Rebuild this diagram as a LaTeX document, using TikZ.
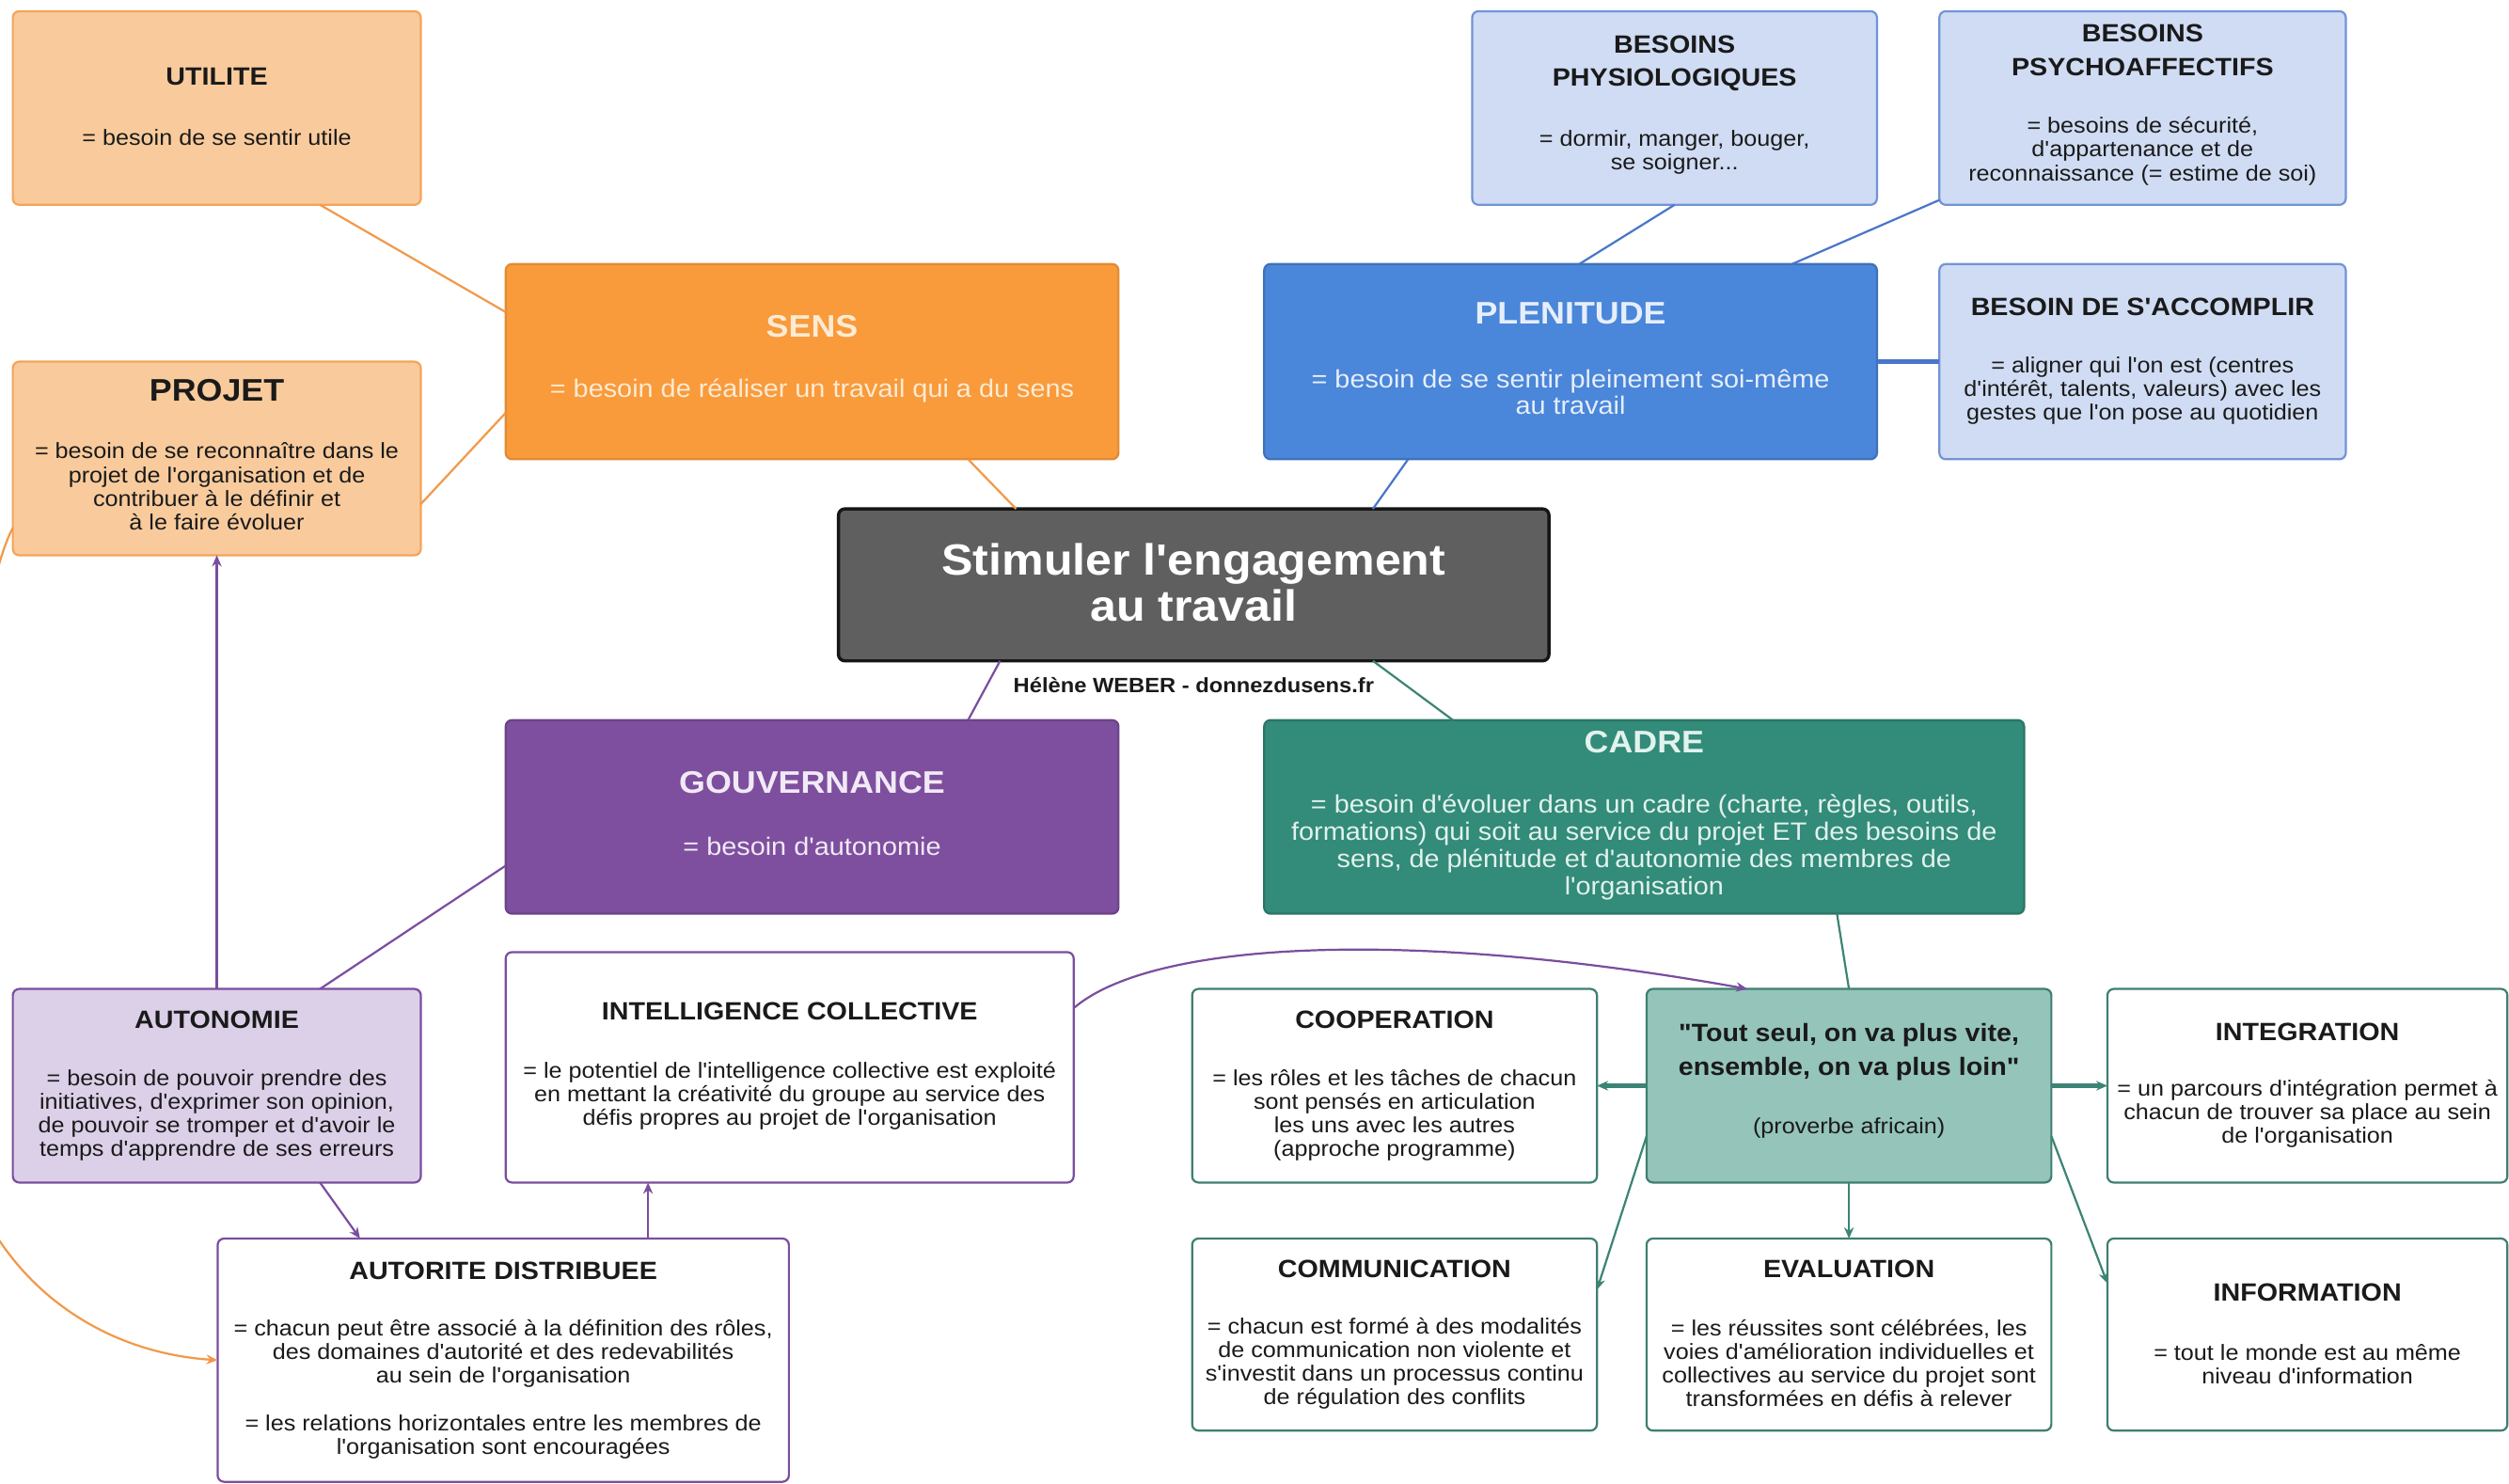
\documentclass[tikz,border=0pt]{standalone}
\usepackage{fontspec}
\setmainfont{Liberation Sans}[FakeStretch=1.08, Ligatures=TeXOff]
\usetikzlibrary{arrows.meta}
\definecolor{orL}{HTML}{F9CB9C}
\definecolor{orB}{HTML}{F4A45A}
\definecolor{orS}{HTML}{F99A3B}
\definecolor{orLine}{HTML}{F2994A}
\definecolor{blL}{HTML}{CFDCF3}
\definecolor{blB}{HTML}{7393D8}
\definecolor{blM}{HTML}{4A86D9}
\definecolor{blLine}{HTML}{4976C9}
\definecolor{puM}{HTML}{7E4F9E}
\definecolor{puL}{HTML}{DCD0E9}
\definecolor{puB}{HTML}{7A4E9E}
\definecolor{teM}{HTML}{338B79}
\definecolor{teL}{HTML}{95C4BA}
\definecolor{teB}{HTML}{3F7F71}
\definecolor{teLine}{HTML}{3C8474}
\definecolor{grM}{HTML}{5F5F5F}
\definecolor{grB}{HTML}{161616}
\definecolor{txt}{HTML}{1A1A1A}
\definecolor{txSens}{HTML}{FDEBD3}
\definecolor{txPlen}{HTML}{E6EEFA}
\definecolor{txGouv}{HTML}{F1EAF6}
\definecolor{txCadre}{HTML}{E2F2ED}
\newcommand{\placebox}[6]{%
  \pgfmathsetmacro{\qbw}{#5-#3}\pgfmathsetmacro{\qbh}{#6-#4}%
  \pgfmathsetmacro{\qcx}{(#3+#5)/2}\pgfmathsetmacro{\qcy}{(#4+#6)/2}%
  \node[box,#2,minimum width=\qbw pt,minimum height=\qbh pt] (#1) at (\qcx,\qcy) {};}
\tikzset{
  box/.style={rectangle, rounded corners=4pt, inner sep=0pt, outer sep=0pt, line width=1.3pt},
  orlight/.style={fill=orL, draw=orB},
  orstrong/.style={fill=orS, draw=orS!90!black},
  centerbox/.style={fill=grM, draw=grB, line width=2pt},
  bllight/.style={fill=blL, draw=blB},
  blstrong/.style={fill=blM, draw=blM!85!black},
  pustrong/.style={fill=puM, draw=puM!85!black},
  pulight/.style={fill=puL, draw=puB},
  puwhite/.style={fill=white, draw=puB},
  testrong/.style={fill=teM, draw=teM!85!black},
  telight/.style={fill=teL, draw=teB},
  tewhite/.style={fill=white, draw=teB},
  body/.style={align=center, inner sep=0pt, text=txt, font=\fontsize{13.7}{14.8}\selectfont},
  mbody/.style={align=center, inner sep=0pt, font=\fontsize{15.7}{17}\selectfont},
  ttl/.style={align=center, inner sep=0pt, text=txt, font=\bfseries\fontsize{15.6}{21}\selectfont},
  bigttl/.style={align=center, inner sep=0pt, font=\bfseries\fontsize{19.5}{22}\selectfont},
  conn/.style={line width=1.3pt},
  arr/.style={-{Stealth[length=7pt,width=6pt]}},
}
\begin{document}
\begin{tikzpicture}[x=1pt,y=-1pt]
\useasboundingbox (0,0) rectangle (1568,927);
\fill[white] (0,0) rectangle (1568,927);

% ---------- boxes ----------
\placebox{utilite}{orlight}{8}{7}{263}{128}
\placebox{projet}{orlight}{8}{226}{263}{347}
\placebox{sens}{orstrong}{316}{165}{699}{287}
\placebox{center}{centerbox}{524}{318}{968}{413}
\placebox{plen}{blstrong}{790}{165}{1173}{287}
\placebox{physio}{bllight}{920}{7}{1173}{128}
\placebox{psycho}{bllight}{1212}{7}{1466}{128}
\placebox{accomp}{bllight}{1212}{165}{1466}{287}
\placebox{gouv}{pustrong}{316}{450}{699}{571}
\placebox{cadre}{testrong}{790}{450}{1265}{571}
\placebox{autonomie}{pulight}{8}{618}{263}{739}
\placebox{intel}{puwhite}{316}{595}{671}{739}
\placebox{autorite}{puwhite}{136}{774}{493}{926}
\placebox{coop}{tewhite}{745}{618}{998}{739}
\placebox{proverb}{telight}{1029}{618}{1282}{739}
\placebox{integ}{tewhite}{1317}{618}{1567}{739}
\placebox{comm}{tewhite}{745}{774}{998}{894}
\placebox{eval}{tewhite}{1029}{774}{1282}{894}
\placebox{info}{tewhite}{1317}{774}{1567}{894}

% ---------- texts ----------
\node[ttl] (utiliteT) at (135.5,48) {UTILITE};
\node[body] (utiliteB) at (135.5,86) {= besoin de se sentir utile};
\node[bigttl,text=txt] (projetT) at (135.5,244) {PROJET};
\node[body] (projetB) at (135.5,304) {= besoin de se reconnaître dans le\\projet de l'organisation et de\\contribuer à le définir et\\à le faire évoluer};
\node[bigttl,text=txSens] (sensT) at (507.5,204) {SENS};
\node[mbody,text=txSens] (sensB) at (507.5,244) {= besoin de réaliser un travail qui a du sens};
\node[align=center,inner sep=0pt,text=white,font=\bfseries\fontsize{27.3}{29}\selectfont] (centerT) at (746,364) {Stimuler l'engagement\\au travail};
\node[inner sep=0pt,text=txt,font=\bfseries\fontsize{12.9}{14}\selectfont] (author) at (746,428) {Hélène WEBER - donnezdusens.fr};
\node[bigttl,text=txPlen] (plenT) at (981.5,196) {PLENITUDE};
\node[mbody,text=txPlen] (plenB) at (981.5,245) {= besoin de se sentir pleinement soi-même\\au travail};
\node[ttl] (physioT) at (1046.5,39.5) {BESOINS\\PHYSIOLOGIQUES};
\node[body] (physioB) at (1046.5,95) {= dormir, manger, bouger,\\se soigner...};
\node[ttl] (psychoT) at (1339,31.5) {BESOINS\\PSYCHOAFFECTIFS};
\node[body] (psychoB) at (1339,94.5) {= besoins de sécurité,\\d'appartenance et de\\reconnaissance (= estime de soi)};
\node[ttl] (accompT) at (1339,192) {BESOIN DE S'ACCOMPLIR};
\node[body] (accompB) at (1339,244) {= aligner qui l'on est (centres\\d'intérêt, talents, valeurs) avec les\\gestes que l'on pose au quotidien};
\node[bigttl,text=txGouv] (gouvT) at (507.5,489) {GOUVERNANCE};
\node[mbody,text=txGouv] (gouvB) at (507.5,529) {= besoin d'autonomie};
\node[bigttl,text=txCadre] (cadreT) at (1027.5,464) {CADRE};
\node[mbody,text=txCadre] (cadreB) at (1027.5,529.5) {= besoin d'évoluer dans un cadre (charte, règles, outils,\\formations) qui soit au service du projet ET des besoins de\\sens, de plénitude et d'autonomie des membres de\\l'organisation};
\node[ttl] (autonomieT) at (135.5,637) {AUTONOMIE};
\node[body] (autonomieB) at (135.5,697) {= besoin de pouvoir prendre des\\initiatives, d'exprimer son opinion,\\de pouvoir se tromper et d'avoir le\\temps d'apprendre de ses erreurs};
\node[ttl] (intelT) at (493.5,632) {INTELLIGENCE COLLECTIVE};
\node[body] (intelB) at (493.5,685) {= le potentiel de l'intelligence collective est exploité\\en mettant la créativité du groupe au service des\\défis propres au projet de l'organisation};
\node[ttl] (autoriteT) at (314.5,794) {AUTORITE DISTRIBUEE};
\node[body] (autoriteB) at (314.5,846) {= chacun peut être associé à la définition des rôles,\\des domaines d'autorité et des redevabilités\\au sein de l'organisation};
\node[body] (autoriteC) at (314.5,898) {= les relations horizontales entre les membres de\\l'organisation sont encouragées};
\node[ttl] (coopT) at (871.5,637) {COOPERATION};
\node[body] (coopB) at (871.5,697) {= les rôles et les tâches de chacun\\sont pensés en articulation\\les uns avec les autres\\(approche programme)};
\node[ttl] (proverbT) at (1155.5,657.5) {"Tout seul, on va plus vite,\\ensemble, on va plus loin"};
\node[body] (proverbB) at (1155.5,705) {(proverbe africain)};
\node[ttl] (integT) at (1442,645) {INTEGRATION};
\node[body] (integB) at (1442,696) {= un parcours d'intégration permet à\\chacun de trouver sa place au sein\\de l'organisation};
\node[ttl] (commT) at (871.5,793) {COMMUNICATION};
\node[body] (commB) at (871.5,852) {= chacun est formé à des modalités\\de communication non violente et\\s'investit dans un processus continu\\de régulation des conflits};
\node[ttl] (evalT) at (1155.5,793) {EVALUATION};
\node[body] (evalB) at (1155.5,852) {= les réussites sont célébrées, les\\voies d'amélioration individuelles et\\collectives au service du projet sont\\transformées en défis à relever};
\node[ttl] (infoT) at (1442,808) {INFORMATION};
\node[body] (infoB) at (1442,852.5) {= tout le monde est au même\\niveau d'information};

% ---------- connectors ----------
\draw[conn,orLine] ([xshift=64.5pt]utilite.south) -- ([yshift=31pt]sens.west);
\draw[conn,orLine] ([yshift=-28.5pt]projet.east) -- ([yshift=-32pt]sens.west);
\draw[conn,orLine] ([xshift=97.5pt]sens.south) -- ([xshift=-111pt]center.north);
\draw[conn,blLine] (physio.south) -- ([xshift=5.5pt]plen.north);
\draw[conn,blLine] ([yshift=3pt]psycho.south west) -- ([xshift=138.5pt]plen.north);
\draw[blLine,line width=2.5pt] (plen.east) -- (accomp.west);
\draw[conn,blLine] ([xshift=-101.5pt]plen.south) -- ([xshift=112pt]center.north);
\draw[conn,puB] ([xshift=-121pt]center.south) -- ([xshift=97.5pt]gouv.north);
\draw[conn,teLine] ([xshift=112pt]center.south) -- ([xshift=-119.5pt]cadre.north);
\draw[conn,puB] ([yshift=-30.5pt]gouv.west) -- ([xshift=64.5pt]autonomie.north);
\draw[conn,puB,arr] (autonomie.north) -- (projet.south);
\draw[conn,puB,arr] ([xshift=64.5pt]autonomie.south) -- ([xshift=-89.5pt]autorite.north);
\draw[conn,puB,arr] ([xshift=90.5pt]autorite.north) -- ([xshift=-88.5pt]intel.south);
\draw[conn,puB,arr] ([yshift=37pt]intel.east) .. controls (720,588) and (880,580) .. ([xshift=-63.5pt]proverb.north);
\draw[conn,teLine] ([xshift=120.5pt]cadre.south) -- (proverb.north);
\draw[teLine,line width=2.5pt,arr] (proverb.west) -- (coop.east);
\draw[teLine,line width=2.5pt,arr] (proverb.east) -- (integ.west);
\draw[conn,teLine,arr] (proverb.south) -- (eval.north);
\draw[conn,teLine,arr] ([yshift=-31.5pt]proverb.west) -- ([yshift=28pt]comm.east);
\draw[conn,teLine,arr] ([yshift=-31.5pt]proverb.east) -- ([yshift=32pt]info.west);
\begin{scope}
\clip (0,0) rectangle (1568,927);
\draw[conn,orLine,arr] ([yshift=-43.5pt]projet.west) .. controls (-15,370) and (-55,640) .. (-22,730) .. controls (0,800) and (60,845) .. (autorite.west);
\end{scope}
\end{tikzpicture}
\end{document}
